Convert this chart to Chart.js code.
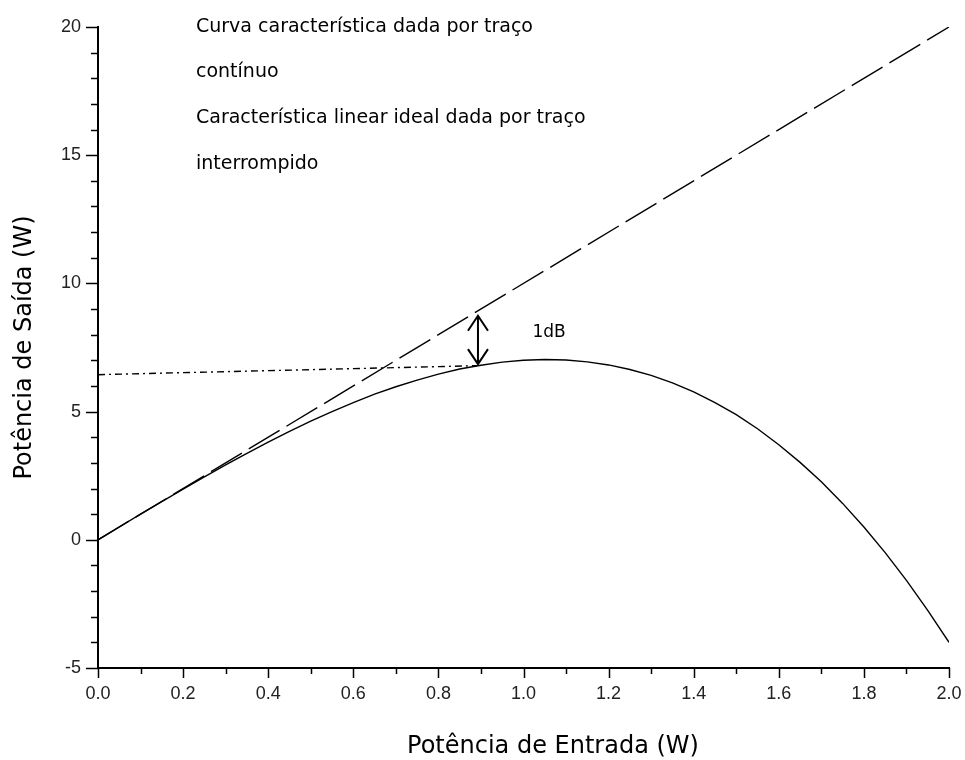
<!DOCTYPE html>
<html>
<head>
<meta charset="utf-8">
<script src="https://cdn.jsdelivr.net/npm/chart.js@4.4.1/dist/chart.umd.min.js"></script>
<style>
html,body{margin:0;padding:0;background:#fff;}
#wrap{width:965px;height:760px;position:relative;}
</style>
</head>
<body>
<div id="wrap"><canvas id="c" width="965" height="760"></canvas></div>
<script>
// ---- data ----
const inputPower = [0,0.05,0.1,0.15,0.2,0.25,0.3,0.35,0.4,0.45,0.5,0.55,0.6,0.65,0.7,0.75,0.8,0.85,0.9,0.95,1.0,1.05,1.1,1.15,1.2,1.25,1.3,1.35,1.4,1.45,1.5,1.55,1.6,1.65,1.7,1.75,1.8,1.85,1.9,1.95,2.0];
const outputPower = [0,0.50,1.00,1.49,1.98,2.45,2.92,3.37,3.81,4.23,4.63,5.00,5.35,5.68,5.97,6.23,6.46,6.66,6.81,6.93,7.00,7.03,7.01,6.94,6.82,6.64,6.41,6.12,5.77,5.35,4.88,4.33,3.71,3.02,2.26,1.42,0.50,-0.50,-1.58,-2.75,-4.00];
const idealX = [0, 2];
const idealY = [0, 20];
const refX = [0, 0.89];
const refY = [6.44, 6.79];
const arrowX = 0.893;
const arrowY = [6.85, 8.74];
const dbLabel = {text: '1dB', x: 1.06, y: 8.07};
const noteLines = ['Curva característica dada por traço','contínuo','Característica linear ideal dada por traço','interrompido'];
const xTitle = 'Potência de Entrada (W)';
const yTitle = 'Potência de Saída (W)';
const xMin = 0, xMax = 2, xStep = 0.1;
const yMin = -5, yMax = 20, yStep = 1;

const pts = (xs, ys) => xs.map((x, i) => ({x: x, y: ys[i]}));
const TXT = '"DejaVu Sans", sans-serif';
const NUM = '"Liberation Sans", Arial, sans-serif';

const tickPlugin = {
  id: 'customTicks',
  afterDraw(chart) {
    const ctx = chart.ctx;
    const xs = chart.scales.x, ys = chart.scales.y;
    const area = chart.chartArea;
    ctx.save();
    ctx.strokeStyle = '#000';
    ctx.lineWidth = 1.5;
    ys.ticks.forEach(t => {
      const p = Math.round(ys.getPixelForValue(t.value)) + 0.5;
      const major = Math.round(t.value) % 5 === 0;
      ctx.beginPath();
      ctx.moveTo(area.left, p);
      ctx.lineTo(area.left - (major ? 12 : 7), p);
      ctx.stroke();
    });
    xs.ticks.forEach(t => {
      const p = Math.round(xs.getPixelForValue(t.value)) + 0.5;
      const major = Math.round(t.value * 10) % 2 === 0;
      ctx.beginPath();
      ctx.moveTo(p, area.bottom);
      ctx.lineTo(p, area.bottom + (major ? 10 : 6));
      ctx.stroke();
    });
    // double arrow
    const ax = xs.getPixelForValue(arrowX);
    const y0 = ys.getPixelForValue(arrowY[0]);
    const y1 = ys.getPixelForValue(arrowY[1]);
    ctx.lineWidth = 2;
    ctx.beginPath();
    ctx.moveTo(ax, y0); ctx.lineTo(ax, y1);
    ctx.moveTo(ax - 10, y1 + 15); ctx.lineTo(ax, y1); ctx.lineTo(ax + 10, y1 + 15);
    ctx.moveTo(ax - 10, y0 - 15); ctx.lineTo(ax, y0); ctx.lineTo(ax + 10, y0 - 15);
    ctx.stroke();
    // labels
    ctx.fillStyle = '#000';
    ctx.textBaseline = 'middle';
    ctx.textAlign = 'center';
    ctx.font = '17px ' + TXT;
    ctx.fillText(dbLabel.text, xs.getPixelForValue(dbLabel.x), ys.getPixelForValue(dbLabel.y));
    // x-axis title (sits right of centre in the original)
    ctx.font = '24px ' + TXT;
    ctx.fillText(xTitle, 553, 747);
    ctx.textAlign = 'left';
    ctx.font = '19px ' + TXT;
    const lineY = [27, 72, 118, 164];
    noteLines.forEach((s, i) => ctx.fillText(s, 196, lineY[i]));
    ctx.restore();
  }
};

new Chart(document.getElementById('c'), {
  type: 'line',
  data: {
    datasets: [
      {data: pts(inputPower, outputPower), borderColor: '#000', borderWidth: 1.4, pointRadius: 0, tension: 0, fill: false},
      {data: pts(idealX, idealY), borderColor: '#000', borderWidth: 1.4, borderDash: [36, 8], pointRadius: 0, fill: false},
      {data: pts(refX, refY), borderColor: '#000', borderWidth: 1.4, borderDash: [7, 4, 2, 4], pointRadius: 0, fill: false}
    ]
  },
  options: {
    responsive: false,
    animation: false,
    events: [],
    layout: {padding: {top: 27, right: 16, left: 0, bottom: 0}},
    plugins: {legend: {display: false}, tooltip: {enabled: false}},
    scales: {
      x: {
        type: 'linear', min: xMin, max: xMax,
        afterFit(s) { s.height = 92; s.paddingLeft = 0; s.paddingRight = 0; },
        ticks: {
          stepSize: xStep, autoSkip: false, maxRotation: 0, padding: 15,
          color: '#222', font: {family: NUM, size: 18},
          callback: v => (Math.round(v * 10) % 2 === 0 ? v.toFixed(1) : '')
        },
        grid: {display: true, drawOnChartArea: false, drawTicks: false},
        border: {display: true, color: '#000', width: 2},
        title: {display: false}
      },
      y: {
        type: 'linear', min: yMin, max: yMax,
        afterFit(s) { s.width = 98; s.paddingTop = 0; s.paddingBottom = 0; },
        ticks: {
          stepSize: yStep, autoSkip: false, padding: 17,
          color: '#222', font: {family: NUM, size: 18},
          callback: v => (Math.round(v) % 5 === 0 ? String(v) : '')
        },
        grid: {display: true, drawOnChartArea: false, drawTicks: false},
        border: {display: true, color: '#000', width: 2},
        title: {display: true, text: yTitle, color: '#000', font: {family: TXT, size: 24, lineHeight: 2.08}, padding: 0}
      }
    }
  },
  plugins: [tickPlugin]
});
</script>
</body>
</html>
